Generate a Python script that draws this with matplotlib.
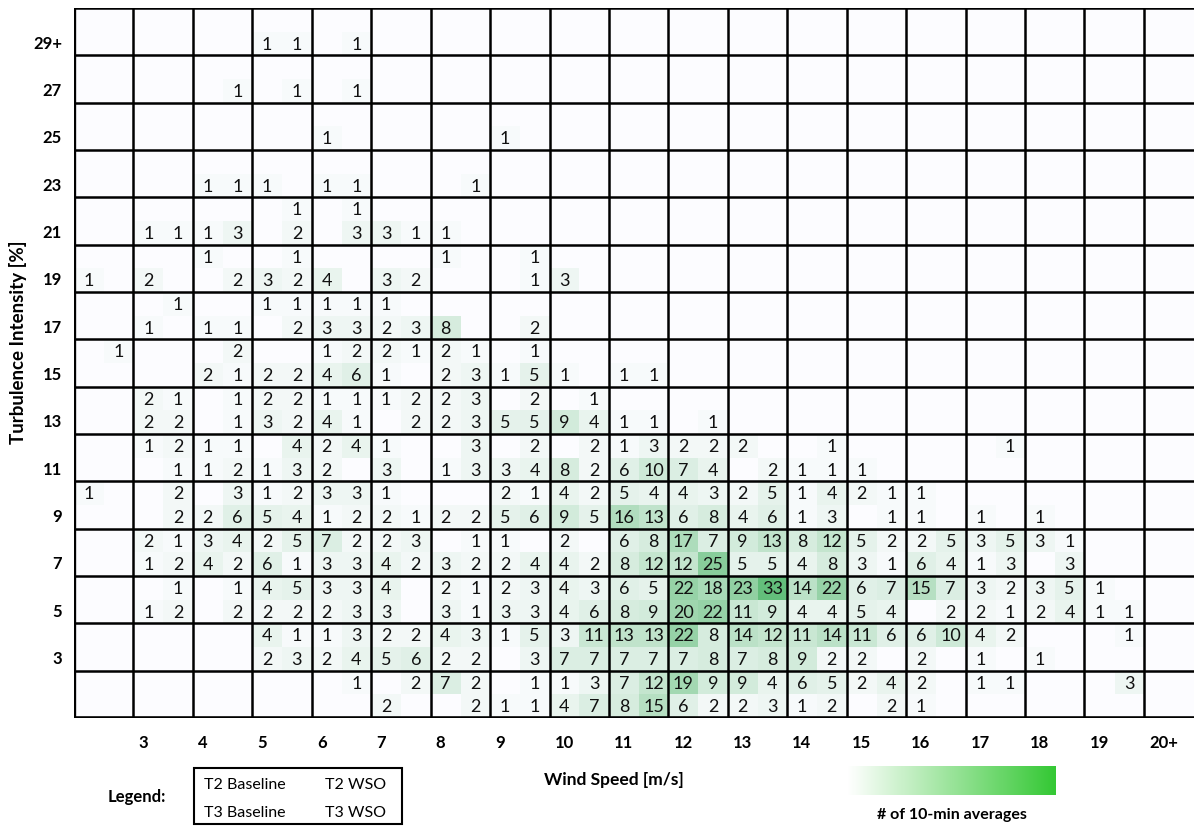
import numpy as np
import matplotlib.pyplot as plt
from matplotlib.colors import LinearSegmentedColormap
from matplotlib.patches import Rectangle

plt.rcParams['font.family'] = ['Lato', 'DejaVu Sans']

# turbulence intensity rows (top -> bottom) and wind speed labels
ti_labels = ['29+', '27', '25', '23', '21', '19', '17', '15', '13', '11', '9', '7', '5', '3', '']
ws_labels = ['3', '4', '5', '6', '7', '8', '9', '10', '11', '12', '13', '14', '15', '16', '17', '18', '19', '20+']

# counts of 10-min averages, rows = TI bins (top->bottom), cols = wind speed bins
t2_base = [
    [0]*19, [0]*19, [0]*19, [0]*19, [0]*19,
    [0,0,1,0,0,0,1,0,0,0,0,0,0,0,0,0,0,0,0],
    [0,0,0,1,1,1,0,0,0,0,0,0,0,0,0,0,0,0,0],
    [0,0,0,0,1,2,2,0,0,0,0,0,0,0,0,0,0,0,0],
    [0,2,0,2,1,1,2,0,0,0,0,0,0,0,0,0,0,0,0],
    [0,1,1,0,2,1,0,0,0,1,2,2,0,0,0,0,0,0,0],
    [1,0,0,1,3,1,0,2,4,5,4,2,1,2,1,0,0,0,0],
    [0,2,3,2,7,2,0,1,2,6,17,9,8,5,2,3,3,0,0],
    [0,0,0,4,3,4,2,2,4,6,22,23,14,6,15,3,3,1,0],
    [0,0,0,4,1,2,4,1,3,13,22,14,11,11,6,4,0,0,0],
    [0,0,0,0,0,0,7,0,1,7,19,9,6,2,2,1,0,0,0],
]
t2_wso = [
    [0]*19, [0]*19, [0]*19, [0]*19,
    [0,0,0,1,1,0,0,0,0,0,0,0,0,0,0,0,0,0,0],
    [0,0,0,1,0,0,0,1,0,0,0,0,0,0,0,0,0,0,0],
    [0,1,0,1,1,0,0,0,0,0,0,0,0,0,0,0,0,0,0],
    [1,0,2,0,2,1,1,1,0,0,0,0,0,0,0,0,0,0,0],
    [0,1,1,2,1,2,3,2,1,0,0,0,0,0,0,0,0,0,0],
    [0,2,1,4,4,0,3,2,2,3,2,0,1,0,0,1,0,0,0],
    [0,2,3,2,3,0,0,1,2,4,3,5,4,1,0,0,0,0,0],
    [0,1,4,5,2,3,1,0,0,8,7,13,12,2,5,5,1,0,0],
    [0,1,1,5,3,0,1,3,3,5,18,33,22,7,7,2,5,0,0],
    [0,0,0,1,3,2,3,5,11,13,8,12,14,6,10,2,0,1,0],
    [0,0,0,0,1,2,2,1,3,12,9,4,5,4,0,1,0,3,0],
]
t3_base = [
    [0,0,0,1,0,0,0,0,0,0,0,0,0,0,0,0,0,0,0],
    [0]*19,
    [0,0,0,0,1,0,0,1,0,0,0,0,0,0,0,0,0,0,0],
    [0,0,1,1,1,0,0,0,0,0,0,0,0,0,0,0,0,0,0],
    [0,1,1,0,0,3,1,0,0,0,0,0,0,0,0,0,0,0,0],
    [1,2,0,3,4,3,0,0,3,0,0,0,0,0,0,0,0,0,0],
    [0,1,1,0,3,2,8,0,0,0,0,0,0,0,0,0,0,0,0],
    [0,0,2,2,4,1,2,1,1,1,0,0,0,0,0,0,0,0,0],
    [0,2,0,3,4,0,2,5,9,1,0,0,0,0,0,0,0,0,0],
    [0,0,1,1,2,3,1,3,8,6,7,0,1,1,0,0,0,0,0],
    [0,0,2,5,1,2,2,5,9,16,6,4,1,0,1,1,1,0,0],
    [0,1,4,6,3,4,3,2,4,8,12,5,4,3,6,1,0,0,0],
    [0,1,0,2,2,3,3,3,4,8,20,11,4,5,0,2,2,1,0],
    [0,0,0,2,2,5,2,0,7,7,7,7,9,2,2,1,1,0,0],
    [0,0,0,0,0,2,0,1,4,8,6,2,1,0,1,0,0,0,0],
]
t3_wso = [
    [0,0,0,1,1,0,0,0,0,0,0,0,0,0,0,0,0,0,0],
    [0,0,1,1,1,0,0,0,0,0,0,0,0,0,0,0,0,0,0],
    [0]*19,
    [0,0,1,0,1,0,1,0,0,0,0,0,0,0,0,0,0,0,0],
    [0,1,3,2,3,1,0,0,0,0,0,0,0,0,0,0,0,0,0],
    [0,0,2,2,0,2,0,1,0,0,0,0,0,0,0,0,0,0,0],
    [0,0,1,2,3,3,0,2,0,0,0,0,0,0,0,0,0,0,0],
    [0,0,1,2,6,0,3,5,0,1,0,0,0,0,0,0,0,0,0],
    [0,2,1,2,1,2,3,5,4,1,1,0,0,0,0,0,0,0,0],
    [0,1,2,3,0,0,3,4,2,10,4,2,1,0,0,0,0,0,0],
    [0,2,6,4,2,1,2,6,5,13,8,6,3,1,0,0,0,0,0],
    [0,2,2,1,3,2,2,4,2,12,25,5,8,1,4,3,3,0,0],
    [0,2,2,2,3,0,1,3,6,9,22,9,4,4,2,1,4,1,0],
    [0,0,0,3,4,6,2,3,7,7,8,8,2,0,0,0,0,0,0],
    [0,0,0,0,0,0,2,1,7,15,2,3,2,2,0,0,0,0,0],
]

nr, nc = len(t2_base), len(t2_base[0])
M = np.zeros((2 * nr, 2 * nc))
M[0::2, 0::2] = t2_base
M[0::2, 1::2] = t2_wso
M[1::2, 0::2] = t3_base
M[1::2, 1::2] = t3_wso

W, H = 1194, 826
cw, rh = 59.44, 47.33
fig = plt.figure(figsize=(W / 100, H / 100), dpi=100)
ax = fig.add_axes([74 / W, (H - 718) / H, nc * cw / W, nr * rh / H])

cmap = LinearSegmentedColormap.from_list('xl_green', ['#FCFCFF', '#63BE7B'])
ax.imshow(M, cmap=cmap, vmin=0, vmax=M.max(), extent=(0, 2 * nc, 2 * nr, 0),
          aspect='auto', interpolation='nearest')
ax.set_xlim(0, 2 * nc)
ax.set_ylim(2 * nr, 0)
ax.axis('off')

for i in range(2 * nr):
    for j in range(2 * nc):
        if M[i, j] > 0:
            ax.text(j + 0.5, i + 0.55, '%d' % M[i, j], ha='center', va='center',
                    fontsize=13, color='#111111')

for c in range(nc + 1):
    ax.axvline(2 * c, color='black', lw=2.4 if c == 0 else 1.8)
for r in range(nr + 1):
    ax.axhline(2 * r, color='black', lw=2.6 if r == nr else 1.8)

for r, lab in enumerate(ti_labels):
    ax.text(-0.4, 2 * r + 1.5, lab, ha='right', va='center', fontsize=12,
            fontweight='bold', clip_on=False)
for c, lab in enumerate(ws_labels):
    ax.text(2 * (c + 1) + 0.17, 31.05, lab, ha='left', va='center', fontsize=12,
            fontweight='bold', clip_on=False)

fig.text(18 / W, 1 - 342 / H, 'Turbulence Intensity [%]', rotation=90,
         ha='center', va='center', fontsize=13.5, fontweight='bold')
fig.text(614 / W, 1 - 780 / H, 'Wind Speed [m/s]', ha='center', va='center',
         fontsize=12.5, fontweight='bold')

# legend box
fig.text(137 / W, 1 - 797 / H, 'Legend:', ha='center', va='center',
         fontsize=12, fontweight='bold')
fig.add_artist(Rectangle((194 / W, 1 - 824 / H), 208 / W, 56 / H, transform=fig.transFigure,
                         fill=False, edgecolor='black', lw=1.5))
fig.text(204 / W, 1 - 785 / H, 'T2 Baseline', ha='left', va='center', fontsize=11.5)
fig.text(325 / W, 1 - 785 / H, 'T2 WSO', ha='left', va='center', fontsize=11.5)
fig.text(204 / W, 1 - 813 / H, 'T3 Baseline', ha='left', va='center', fontsize=11.5)
fig.text(325 / W, 1 - 813 / H, 'T3 WSO', ha='left', va='center', fontsize=11.5)

# colour gradient
cax = fig.add_axes([848 / W, 1 - 795 / H, 208 / W, 29 / H])
grad_cmap = LinearSegmentedColormap.from_list('grad', ['#FFFFFF', '#34C834'])
cax.imshow(np.linspace(0, 1, 256)[None, :], cmap=grad_cmap, aspect='auto')
cax.axis('off')
fig.text(952 / W, 1 - 815 / H, '# of 10-min averages', ha='center', va='center',
         fontsize=11.5, fontweight='bold')

fig.savefig('out.png', dpi=100)
